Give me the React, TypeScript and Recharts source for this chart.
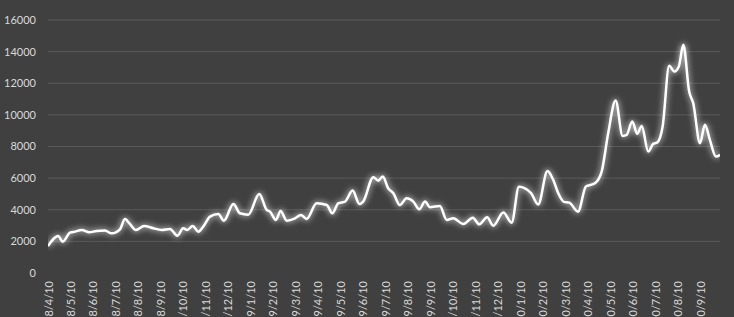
import { LineChart, Line, XAxis, YAxis, CartesianGrid } from "recharts";

// tick labels, one per month (yy/m/10)
const monthLabels = [
  "18/4/10", "18/5/10", "18/6/10", "18/7/10", "18/8/10", "18/9/10",
  "18/10/10", "18/11/10", "18/12/10", "19/1/10", "19/2/10", "19/3/10",
  "19/4/10", "19/5/10", "19/6/10", "19/7/10", "19/8/10", "19/9/10",
  "19/10/10", "19/11/10", "19/12/10", "20/1/10", "20/2/10", "20/3/10",
  "20/4/10", "20/5/10", "20/6/10", "20/7/10", "20/8/10", "20/9/10",
];

// position of each point, in months after 18/4/10
const monthPos = [
  0, 0.46, 0.65, 0.98, 1.2, 1.5, 1.84, 2.16, 2.53, 2.83,
  3.2, 3.42, 3.64, 3.91, 4.27, 4.68, 5.05, 5.42, 5.75, 6.01,
  6.19, 6.43, 6.68, 6.9, 7.2, 7.57, 7.82, 8.24, 8.53, 8.9,
  9.39, 9.72, 9.87, 10.13, 10.34, 10.61, 10.98, 11.24, 11.5, 11.94,
  12.39, 12.64, 12.9, 13.2, 13.54, 13.84, 14.01, 14.46, 14.68, 14.88,
  15.12, 15.35, 15.64, 15.94, 16.24, 16.5, 16.76, 16.98, 17.42, 17.72,
  18.01, 18.46, 18.88, 19.17, 19.52, 19.79, 20.24, 20.61, 20.93, 21.47,
  21.79, 22.2, 22.46, 22.68, 22.93, 23.17, 23.56, 23.91, 24.31, 24.61,
  24.9, 25.23, 25.54, 25.72, 25.97, 26.19, 26.39, 26.68, 26.9, 27.08,
  27.32, 27.61, 27.84, 28.04, 28.24, 28.5, 28.68, 28.98, 29.2, 29.42,
  29.69, 29.87,
];

const values = [
  1700, 2340, 1980, 2550, 2615, 2720, 2575, 2660, 2680, 2510,
  2765, 3420, 3100, 2720, 2975, 2830, 2720, 2785, 2360, 2830,
  2720, 2975, 2615, 2930, 3565, 3735, 3310, 4370, 3780, 3690,
  5000, 3990, 3880, 3355, 3925, 3310, 3460, 3670, 3420, 4410,
  4300, 3780, 4410, 4515, 5210, 4370, 4515, 6060, 5840, 6100,
  5360, 5045, 4300, 4730, 4515, 4030, 4515, 4160, 4240, 3355,
  3460, 3100, 3500, 3080, 3525, 2995, 3820, 3185, 5450, 5050,
  4330, 6450, 5885, 5045, 4500, 4450, 3880, 5465, 5675, 6415,
  8840, 10910, 8670, 8735, 9580, 8800, 9300, 7680, 8165, 8250,
  9260, 13100, 12740, 13060, 14430, 11475, 10740, 8210, 9370, 8420,
  7360, 7470,
];

const yTicks = [0, 2000, 4000, 6000, 8000, 10000, 12000, 14000, 16000];

const data = monthPos.map((m, i) => ({ m, v: values[i] }));

const FONT = "Lato, 'Open Sans', sans-serif";

const MonthTick = ({ x, payload }: any) => (
  <text
    x={x}
    y={281}
    transform={`rotate(-90 ${x} 281)`}
    textAnchor="end"
    dominantBaseline="central"
    fill="#d9d9d9"
    fontSize={11}
    fontFamily={FONT}
  >
    {monthLabels[payload.value]}
  </text>
);

export default function App() {
  return (
    <div
      style={{
        position: "fixed",
        left: 0,
        top: 0,
        width: 734,
        height: 317,
        background: "#404040",
        overflow: "hidden",
      }}
    >
      <LineChart
        width={734}
        height={317}
        data={data}
        margin={{ top: 20, right: 14, bottom: 0, left: 0 }}
      >
        <defs>
          <filter
            id="glow"
            filterUnits="userSpaceOnUse"
            x={0}
            y={0}
            width={734}
            height={317}
          >
            <feGaussianBlur in="SourceGraphic" stdDeviation={3} result="blur" />
            <feMerge>
              <feMergeNode in="blur" />
              <feMergeNode in="SourceGraphic" />
            </feMerge>
          </filter>
        </defs>
        <CartesianGrid
          vertical={false}
          stroke="#5a5a5a"
          horizontalValues={yTicks.filter((t) => t > 0)}
        />
        <XAxis
          type="number"
          dataKey="m"
          domain={[0, 29.87]}
          ticks={monthLabels.map((_, i) => i)}
          interval={0}
          allowDataOverflow
          axisLine={false}
          tickLine={false}
          height={44}
          tick={<MonthTick />}
        />
        <YAxis
          domain={[0, 16000]}
          ticks={yTicks}
          width={48}
          axisLine={false}
          tickLine={false}
          tickMargin={6}
          tick={{ fill: "#d9d9d9", fontSize: 11, fontFamily: FONT }}
        />
        <Line
          type="monotone"
          dataKey="v"
          stroke="#ffffff"
          strokeWidth={2.5}
          dot={false}
          filter="url(#glow)"
          isAnimationActive={false}
        />
      </LineChart>
    </div>
  );
}
